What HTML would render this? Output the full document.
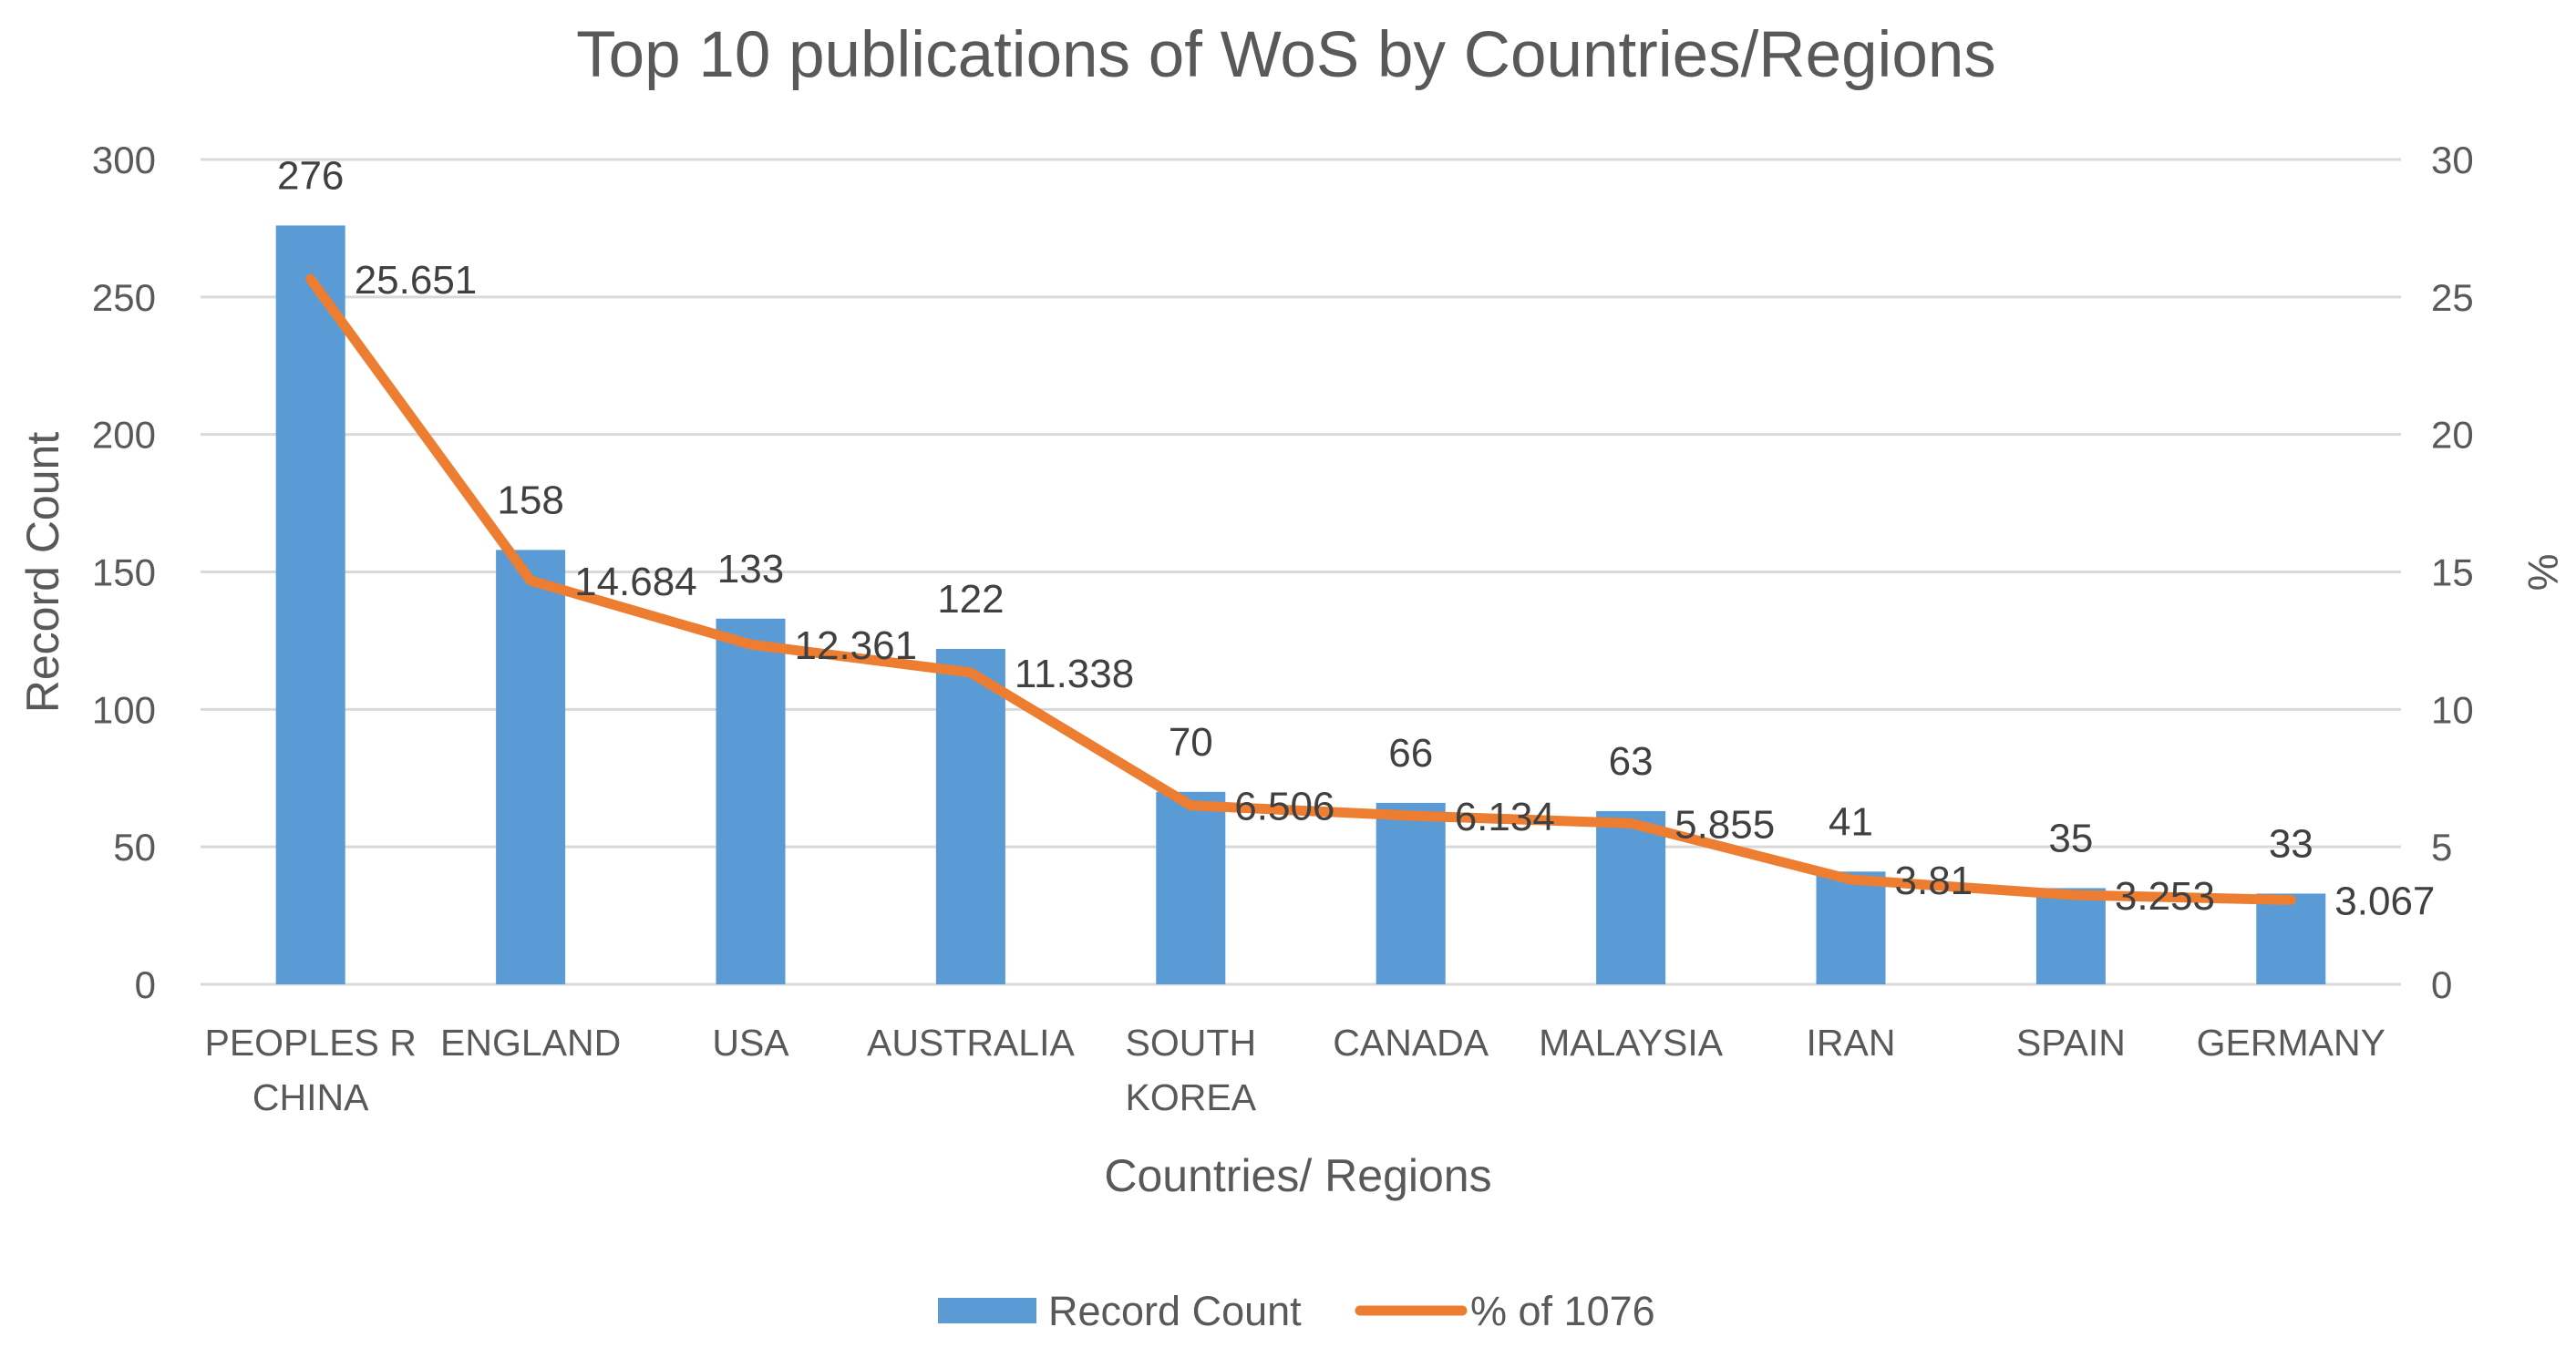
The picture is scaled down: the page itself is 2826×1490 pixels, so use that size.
<!DOCTYPE html>
<html><head><meta charset="utf-8">
<style>
html,body{margin:0;padding:0;background:#fff;}
svg{display:block;font-family:"Liberation Sans",sans-serif;}
</style></head>
<body>
<svg id="chart" width="2826" height="1490" viewBox="0 0 2826 1490" xmlns="http://www.w3.org/2000/svg">
<text x="1411" y="84" font-size="71" fill="#595959" text-anchor="middle">Top 10 publications of WoS by Countries/Regions</text>
<g id="grid"></g>
<g id="bars"></g>
<g id="line"></g>
<g id="labels"></g>
<text transform="translate(64,628) rotate(-90)" font-size="50" fill="#595959" text-anchor="middle">Record Count</text>
<text transform="translate(2774,628) rotate(90)" font-size="46" fill="#595959" text-anchor="middle">%</text>
<text x="1424" y="1307" font-size="50" fill="#595959" text-anchor="middle">Countries/ Regions</text>
<g>
<rect x="1029" y="1424" width="108" height="28" fill="#5B9BD5"/>
<text x="1150" y="1454" font-size="45" fill="#595959">Record Count</text>
<line x1="1492" y1="1438" x2="1604" y2="1438" stroke="#ED7D31" stroke-width="11" stroke-linecap="round"/>
<text x="1613" y="1454" font-size="45" fill="#595959">% of 1076</text>
</g>
</svg>
<script>
const categories = [["PEOPLES R","CHINA"],["ENGLAND"],["USA"],["AUSTRALIA"],["SOUTH","KOREA"],["CANADA"],["MALAYSIA"],["IRAN"],["SPAIN"],["GERMANY"]];
const recordCounts = [276,158,133,122,70,66,63,41,35,33];
const percents = [25.651,14.684,12.361,11.338,6.506,6.134,5.855,3.81,3.253,3.067];
const leftTicks = [0,50,100,150,200,250,300];
const rightTicks = [0,5,10,15,20,25,30];

const NS="http://www.w3.org/2000/svg";
const L=220,R=2634,T=175,B=1080;
const band=(R-L)/categories.length;
const xc=i=>L+band*(i+0.5);
const y1=v=>B-(v/300)*(B-T);
const y2=v=>B-(v/30)*(B-T);
function mk(tag,attrs,parent){const e=document.createElementNS(NS,tag);for(const k in attrs)e.setAttribute(k,attrs[k]);parent.appendChild(e);return e;}
const grid=document.getElementById('grid'),bars=document.getElementById('bars'),lineG=document.getElementById('line'),labels=document.getElementById('labels');

leftTicks.forEach((t,i)=>{
  const g=mk('line',{x1:L,x2:R,y1:y1(t),y2:y1(t),stroke:'#d9d9d9','stroke-width':3},grid);
  
  
  const tx=mk('text',{x:171,y:y1(t)+15,'font-size':42,fill:'#595959','text-anchor':'end'},grid);
  tx.textContent=t;
  
  
});
rightTicks.forEach(t=>{
  const tx=mk('text',{x:2667,y:y2(t)+15,'font-size':42,fill:'#595959'},grid);
  tx.textContent=t;
  
  
});
const bw=76;
recordCounts.forEach((v,i)=>{
  const r=mk('rect',{x:xc(i)-bw/2,y:y1(v),width:bw,height:B-y1(v),fill:'#5B9BD5'},bars);
  
  
  const t=mk('text',{x:xc(i),y:y1(v)-40,'font-size':44,fill:'#404040','text-anchor':'middle'},labels);
  t.textContent=v;
  
  
});
const pts=percents.map((p,i)=>xc(i)+','+y2(p)).join(' ');
const pl=mk('polyline',{points:pts,fill:'none',stroke:'#ED7D31','stroke-width':11,'stroke-linejoin':'round','stroke-linecap':'round'},lineG);


percents.forEach((p,i)=>{
  const t=mk('text',{x:xc(i)+48,y:y2(p)+16,'font-size':44,fill:'#404040'},labels);
  t.textContent=p;
  
  
});
categories.forEach((c,i)=>{
  c.forEach((s,j)=>{
    const t=mk('text',{x:xc(i),y:1158+j*60,'font-size':41,fill:'#595959','text-anchor':'middle'},labels);
    t.textContent=s;
    
    
  });
});
</script>
</body></html>
